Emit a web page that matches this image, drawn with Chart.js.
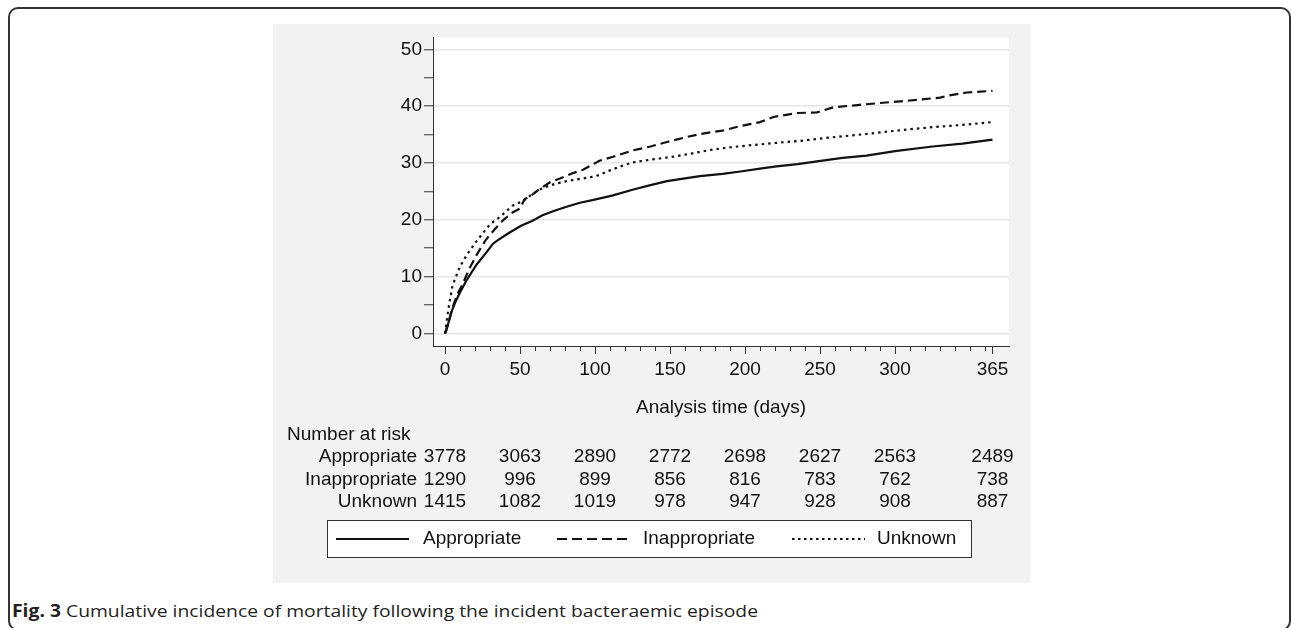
<!DOCTYPE html>
<html>
<head>
<meta charset="utf-8">
<script src="https://cdn.jsdelivr.net/npm/chart.js@4.4.1/dist/chart.umd.min.js"></script>
<style>
  html, body { margin:0; padding:0; background:#fff; width:1292px; height:628px; overflow:hidden; }
  #frame { position:absolute; left:8px; top:7px; width:1283px; height:624px; border:2px solid #333; border-radius:10px; box-sizing:border-box; }
  #plotBox { position:absolute; left:273px; top:24px; width:757px; height:559px; background:#f2f2f2; }
  #caption { position:absolute; left:12px; top:599px; font-family:"Open Sans", sans-serif; font-size:17px; color:#231f20; white-space:nowrap; transform-origin:0 0; }
</style>
</head>
<body>
<div id="frame"></div>
<div id="plotBox"><canvas id="kmChart" width="757" height="559"></canvas></div>
<div id="caption"><b>Fig. 3</b> Cumulative incidence of mortality following the incident bacteraemic episode</div>
<script>
// tick labels
const xMajorTicks = [0, 50, 100, 150, 200, 250, 300, 365];
const xMinorTicks = [10, 20, 30, 40, 60, 70, 80, 90, 110, 120, 130, 140, 160, 170, 180, 190,
  210, 220, 230, 240, 260, 270, 280, 290, 310, 320, 330, 340, 350, 360];
const yTicks = [0, 5, 10, 15, 20, 25, 30, 35, 40, 45, 50];

// cumulative incidence (%)
const appropriateDays = [0, 1, 4, 7, 10, 14, 21, 28, 32, 35, 42, 51, 58, 65, 73, 81, 90, 99, 112, 125,
  137, 148, 160, 170, 185, 197, 210, 221, 235, 248, 265, 281, 300, 325, 345, 365];
const appropriateVals = [0, 0.6, 3.6, 5.6, 7.2, 9.2, 12.1, 14.4, 15.8, 16.4, 17.6, 19.0, 19.8, 20.8, 21.6, 22.3, 23.0, 23.5, 24.3, 25.3,
  26.1, 26.8, 27.3, 27.7, 28.1, 28.5, 29.0, 29.4, 29.8, 30.3, 30.9, 31.3, 32.1, 32.9, 33.4, 34.1];

const inappropriateDays = [0, 3, 5, 8, 12, 16, 21, 27, 33, 39, 45, 50, 53, 58, 63, 70, 77, 85, 92, 103,
  112, 125, 137, 148, 160, 170, 185, 197, 210, 219, 235, 248, 259, 275, 292, 310, 330, 336, 348, 365];
const inappropriateVals = [0, 2.5, 4.5, 6.8, 8.8, 11.3, 13.8, 16.4, 18.3, 20.0, 21.3, 22.0, 23.6, 24.4, 25.4, 26.6, 27.3, 28.2, 28.8, 30.4,
  31.1, 32.2, 32.9, 33.7, 34.5, 35.1, 35.7, 36.5, 37.2, 38.1, 38.8, 38.9, 39.8, 40.2, 40.6, 41.0, 41.5, 41.9, 42.4, 42.7];

const unknownDays = [0, 1, 3, 5, 7, 10, 15, 19, 25, 30, 37, 45, 52, 58, 65, 73, 81, 90, 97, 103,
  110, 118, 125, 140, 152, 165, 179, 195, 219, 237, 250, 265, 281, 308, 325, 345, 365];
const unknownVals = [0, 2.0, 5.5, 8.4, 9.8, 11.8, 14.0, 15.5, 17.6, 19.2, 20.6, 22.5, 23.3, 24.5, 25.6, 26.3, 26.8, 27.2, 27.5, 27.9,
  28.7, 29.5, 30.1, 30.7, 31.1, 31.7, 32.4, 32.9, 33.5, 33.9, 34.3, 34.7, 35.1, 35.9, 36.3, 36.7, 37.2];

// number at risk table
const riskDays = [0, 50, 100, 150, 200, 250, 300, 365];
const riskAppropriate = [3778, 3063, 2890, 2772, 2698, 2627, 2563, 2489];
const riskInappropriate = [1290, 996, 899, 856, 816, 783, 762, 738];
const riskUnknown = [1415, 1082, 1019, 978, 947, 928, 908, 887];

const seriesNames = ['Appropriate', 'Inappropriate', 'Unknown'];

const FONT = '"Liberation Sans", Arial, sans-serif';
const INK = '#111';

function toPoints(days, vals) {
  return days.map((d, i) => ({ x: d, y: vals[i] }));
}

// white plot region on the grey graph region
const plotBg = {
  id: 'plotBg',
  beforeDraw(chart) {
    const { ctx, chartArea: a } = chart;
    ctx.save();
    ctx.fillStyle = '#fff';
    ctx.fillRect(a.left, a.top, a.right - a.left, a.bottom - a.top);
    ctx.restore();
  }
};

// minor x ticks, number-at-risk table, boxed legend
const extras = {
  id: 'extras',
  afterDraw(chart) {
    const { ctx, chartArea: a } = chart;
    const xs = chart.scales.x;
    ctx.save();
    ctx.strokeStyle = '#333';
    ctx.lineWidth = 1;
    xMinorTicks.forEach(t => {
      const px = Math.round(xs.getPixelForValue(t)) + 0.5;
      ctx.beginPath();
      ctx.moveTo(px, a.bottom);
      ctx.lineTo(px, a.bottom + 5);
      ctx.stroke();
    });

    ctx.fillStyle = INK;
    ctx.font = '19px ' + FONT;
    ctx.textBaseline = 'middle';
    ctx.textAlign = 'left';
    ctx.fillText('Number at risk', 14, 411);
    const rows = [riskAppropriate, riskInappropriate, riskUnknown];
    const rowY = [433, 456, 478];
    rows.forEach((row, r) => {
      ctx.textAlign = 'right';
      ctx.fillText(seriesNames[r], 144, rowY[r]);
      ctx.textAlign = 'center';
      row.forEach((n, i) => ctx.fillText(String(n), xs.getPixelForValue(riskDays[i]), rowY[r]));
    });

    // legend
    const bx = 54.5, by = 496.5, bw = 644, bh = 37;
    ctx.fillStyle = '#fff';
    ctx.fillRect(bx, by, bw, bh);
    ctx.strokeStyle = '#333';
    ctx.strokeRect(bx, by, bw, bh);
    const items = [[63, 150], [284, 370], [519, 604]];
    const legendDash = [[], [10, 5], [2.5, 3.5]];
    const ly = 515;
    chart.data.datasets.forEach((ds, i) => {
      ctx.strokeStyle = INK;
      ctx.lineWidth = 2;
      ctx.setLineDash(legendDash[i]);
      ctx.beginPath();
      ctx.moveTo(items[i][0], ly);
      ctx.lineTo(items[i][0] + 73, ly);
      ctx.stroke();
      ctx.setLineDash([]);
      ctx.fillStyle = INK;
      ctx.textAlign = 'left';
      ctx.fillText(ds.label, items[i][1], ly);
    });
    ctx.restore();
  }
};

const data = {
  datasets: [
    { label: seriesNames[0], data: toPoints(appropriateDays, appropriateVals), borderDash: [] },
    { label: seriesNames[1], data: toPoints(inappropriateDays, inappropriateVals), borderDash: [9, 5] },
    { label: seriesNames[2], data: toPoints(unknownDays, unknownVals), borderDash: [2.5, 4] }
  ].map(d => Object.assign(d, {
    borderColor: INK, borderWidth: 2.2, pointRadius: 0, tension: 0, fill: false
  }))
};

const config = {
  type: 'line',
  data: data,
  options: {
    responsive: false,
    animation: false,
    devicePixelRatio: 1,
    layout: { padding: { top: 8, right: 21, left: 0, bottom: 163.6 } },
    plugins: { legend: { display: false }, tooltip: { enabled: false } },
    scales: {
      x: {
        type: 'linear',
        min: -8,
        max: 376,
        afterBuildTicks: s => { s.ticks = xMajorTicks.map(v => ({ value: v })); },
        afterFit: s => { s.height = 73.4; },
        ticks: { color: INK, font: { family: FONT, size: 19 }, padding: 4, maxRotation: 0, autoSkip: false },
        grid: { drawOnChartArea: false, tickLength: 8, tickColor: '#333', tickWidth: 1 },
        border: { display: true, color: '#333', width: 1 },
        title: { display: true, text: 'Analysis time (days)', color: INK, font: { family: FONT, size: 19 }, padding: 0 }
      },
      y: {
        type: 'linear',
        min: -2.2,
        max: 52.1,
        afterBuildTicks: s => { s.ticks = yTicks.map(v => ({ value: v })); },
        afterFit: s => { s.width = 160; },
        ticks: {
          color: INK, font: { family: FONT, size: 19 }, padding: 2, autoSkip: false,
          callback: v => (v % 10 === 0 ? String(v) : '')
        },
        grid: {
          color: c => (c.tick && c.tick.value % 10 === 0 ? '#e6e6e6' : 'rgba(0,0,0,0)'),
          lineWidth: 1.5,
          tickLength: 9, tickColor: '#333', tickWidth: 1
        },
        border: { display: true, color: '#333', width: 1 }
      }
    }
  },
  plugins: [plotBg, extras]
};

const myChart = new Chart(document.getElementById('kmChart').getContext('2d'), config);

// stretch caption to the width it has in the figure
const cap = document.getElementById('caption');
const w = cap.getBoundingClientRect().width;
cap.style.transform = 'scaleX(' + (746 / w) + ')';
</script>
</body>
</html>
